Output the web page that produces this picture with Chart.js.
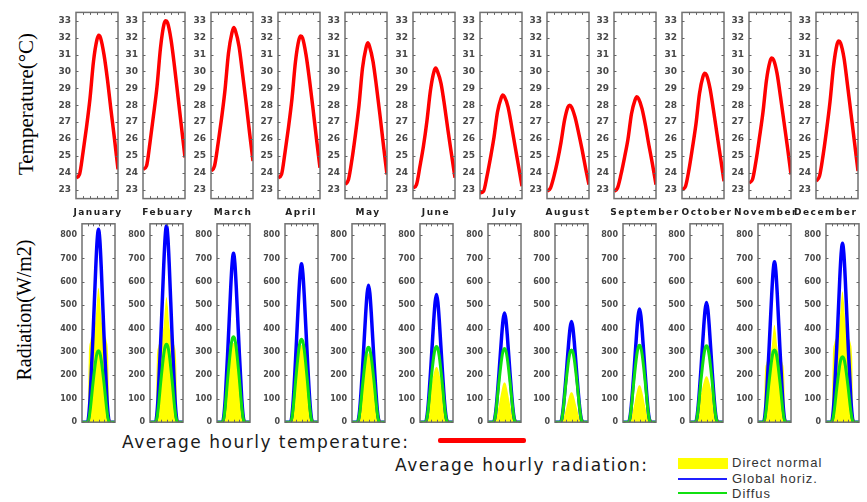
<!DOCTYPE html>
<html>
<head>
<meta charset="utf-8">
<script src="https://cdn.jsdelivr.net/npm/chart.js@4.4.1/dist/chart.umd.min.js"></script>
<style>
  html, body { margin: 0; padding: 0; background: #fff; }
  body { width: 867px; height: 502px; position: relative; overflow: hidden; }
  canvas { position: absolute; }
  .lbl { position: absolute; white-space: nowrap; }
  .month { font: bold 9px "DejaVu Sans"; letter-spacing: 1.5px; color: #222; top: 206px; line-height: 12px; transform: translateX(-50%); }
  .ytitle { font-family: "Liberation Serif"; color: #000; line-height: 24px; transform: translate(-50%, -50%) rotate(-90deg); }
  .legend { font: 17px "DejaVu Sans"; letter-spacing: 1.5px; color: #1a1a1a; line-height: 20px; }
  .key { font: 13px "Liberation Sans"; letter-spacing: 1px; color: #333; line-height: 14px; }
  .swatch { position: absolute; }
</style>
</head>
<body>

<div class="lbl ytitle" style="left:26px; top:104px; font-size:21px;">Temperature(°C)</div>
<div class="lbl ytitle" style="left:24px; top:310px; font-size:20px;">Radiation(W/m2)</div>

<div class="lbl legend" style="left:122px; top:432px;">Average hourly temperature:</div>
<div class="swatch" style="left:438px; top:438px; width:88px; height:5px; background:#ff0000; border-radius:2px;"></div>
<div class="lbl legend" style="left:395px; top:455px;">Average hourly radiation:</div>
<div class="swatch" style="left:678px; top:458px; width:50px; height:11px; background:#ffff00;"></div>
<div class="swatch" style="left:678px; top:478px; width:49px; height:2px; background:#2020ff;"></div>
<div class="swatch" style="left:678px; top:492px; width:49px; height:2px; background:#10e010;"></div>
<div class="lbl key" style="left:732px; top:456px;">Direct normal</div>
<div class="lbl key" style="left:732px; top:472px;">Global horiz.</div>
<div class="lbl key" style="left:732px; top:487px;">Diffus</div>

<script>
const months = ["January", "Febuary", "March", "April", "May", "June",
  "July", "August", "September", "October", "November", "December"];

const tempTicks = [23, 24, 25, 26, 27, 28, 29, 30, 31, 32, 33];
const radTicks = [0, 100, 200, 300, 400, 500, 600, 700, 800];

// hourly temperature (°C)
const tempHours = [0, 2, 4, 6, 8, 10, 12, 13, 14, 16, 18, 20, 22, 24];
const tempJan = [23.7, 23.9, 25.2, 26.7, 28.4, 30.6, 31.9, 32.15, 32.0, 31.0, 29.5, 27.7, 26.0, 24.2];
const tempFeb = [24.2, 24.4, 25.8, 27.4, 29.1, 31.4, 32.8, 33.0, 32.9, 31.9, 30.3, 28.5, 26.7, 24.9];
const tempMar = [24.1, 24.4, 25.7, 27.2, 28.9, 31.1, 32.3, 32.6, 32.4, 31.5, 29.9, 28.2, 26.4, 24.7];
const tempApr = [23.7, 23.9, 25.2, 26.7, 28.4, 30.6, 31.9, 32.1, 32.0, 31.0, 29.5, 27.8, 26.0, 24.3];
const tempMay = [23.3, 23.6, 24.8, 26.3, 28.0, 30.2, 31.4, 31.7, 31.5, 30.6, 29.1, 27.4, 25.6, 23.9];
const tempJun = [23.1, 23.3, 24.4, 25.6, 27.1, 28.9, 30.0, 30.2, 30.0, 29.3, 28.0, 26.5, 25.1, 23.7];
const tempJul = [22.8, 22.9, 23.8, 24.9, 26.1, 27.6, 28.4, 28.6, 28.5, 27.9, 26.8, 25.6, 24.4, 23.2];
const tempAug = [22.9, 23.1, 23.8, 24.7, 25.8, 27.1, 27.9, 28.0, 27.9, 27.3, 26.4, 25.4, 24.3, 23.3];
const tempSep = [22.9, 23.1, 23.9, 24.9, 26.0, 27.5, 28.3, 28.5, 28.4, 27.8, 26.8, 25.6, 24.5, 23.3];
const tempOct = [23.0, 23.2, 24.2, 25.5, 26.9, 28.7, 29.7, 29.9, 29.8, 29.0, 27.7, 26.3, 24.9, 23.5];
const tempNov = [23.4, 23.6, 24.7, 26.1, 27.6, 29.5, 30.6, 30.8, 30.7, 29.9, 28.5, 27.0, 25.5, 23.9];
const tempDec = [23.5, 23.8, 25.0, 26.5, 28.2, 30.3, 31.6, 31.8, 31.7, 30.8, 29.2, 27.5, 25.8, 24.1];

// hourly radiation (W/m2)
const radHours = [0, 4, 5, 6, 8, 10, 11, 12, 13, 14, 16, 18, 19, 20, 24];
const globalJan = [0, 0, 33, 116, 371, 660, 776, 825, 776, 660, 371, 116, 33, 0, 0];
const globalFeb = [0, 0, 34, 118, 378, 672, 790, 840, 790, 672, 378, 118, 34, 0, 0];
const globalMar = [0, 0, 29, 101, 325, 578, 679, 722, 679, 578, 325, 101, 29, 0, 0];
const globalApr = [0, 0, 27, 95, 305, 542, 636, 677, 636, 542, 305, 95, 27, 0, 0];
const globalMay = [0, 0, 23, 82, 263, 468, 550, 585, 550, 468, 263, 82, 23, 0, 0];
const globalJun = [0, 0, 22, 76, 246, 437, 513, 546, 513, 437, 246, 76, 22, 0, 0];
const globalJul = [0, 0, 19, 65, 210, 374, 439, 467, 439, 374, 210, 65, 19, 0, 0];
const globalAug = [0, 0, 17, 60, 194, 344, 404, 430, 404, 344, 194, 60, 17, 0, 0];
const globalSep = [0, 0, 19, 68, 218, 387, 455, 484, 455, 387, 218, 68, 19, 0, 0];
const globalOct = [0, 0, 20, 72, 230, 410, 481, 512, 481, 410, 230, 72, 20, 0, 0];
const globalNov = [0, 0, 27, 96, 309, 549, 645, 686, 645, 549, 309, 96, 27, 0, 0];
const globalDec = [0, 0, 31, 107, 344, 612, 719, 765, 719, 612, 344, 107, 31, 0, 0];

const diffuseJan = [0, 0, 15, 55, 168, 265, 296, 305, 296, 265, 168, 55, 15, 0, 0];
const diffuseFeb = [0, 0, 17, 60, 183, 290, 323, 333, 323, 290, 183, 60, 17, 0, 0];
const diffuseMar = [0, 0, 18, 66, 201, 318, 354, 365, 354, 318, 201, 66, 18, 0, 0];
const diffuseApr = [0, 0, 18, 64, 195, 309, 344, 355, 344, 309, 195, 64, 18, 0, 0];
const diffuseMay = [0, 0, 16, 58, 176, 278, 310, 320, 310, 278, 176, 58, 16, 0, 0];
const diffuseJun = [0, 0, 16, 58, 178, 282, 314, 324, 314, 282, 178, 58, 16, 0, 0];
const diffuseJul = [0, 0, 16, 57, 173, 274, 306, 315, 306, 274, 173, 57, 16, 0, 0];
const diffuseAug = [0, 0, 15, 56, 170, 269, 300, 309, 300, 269, 170, 56, 15, 0, 0];
const diffuseSep = [0, 0, 16, 59, 181, 286, 319, 329, 319, 286, 181, 59, 16, 0, 0];
const diffuseOct = [0, 0, 16, 59, 180, 284, 317, 327, 317, 284, 180, 59, 16, 0, 0];
const diffuseNov = [0, 0, 15, 56, 170, 269, 300, 309, 300, 269, 170, 56, 15, 0, 0];
const diffuseDec = [0, 0, 14, 50, 154, 244, 272, 280, 272, 244, 154, 50, 14, 0, 0];

const directJan = [0, 0, 288, 345, 380, 449, 529, 575, 529, 449, 380, 345, 288, 0, 0];
const directFeb = [0, 0, 268, 321, 353, 417, 492, 535, 492, 417, 353, 321, 268, 0, 0];
const directMar = [0, 0, 34, 102, 211, 299, 330, 340, 330, 299, 211, 102, 34, 0, 0];
const directApr = [0, 0, 33, 99, 205, 290, 320, 330, 320, 290, 205, 99, 33, 0, 0];
const directMay = [0, 0, 30, 89, 183, 260, 286, 295, 286, 260, 183, 89, 30, 0, 0];
const directJun = [0, 0, 24, 71, 147, 209, 230, 237, 230, 209, 147, 71, 24, 0, 0];
const directJul = [0, 0, 5, 20, 77, 139, 163, 170, 163, 139, 77, 20, 5, 0, 0];
const directAug = [0, 0, 4, 15, 58, 105, 123, 128, 123, 105, 58, 15, 4, 0, 0];
const directSep = [0, 0, 5, 19, 71, 130, 152, 158, 152, 130, 71, 19, 5, 0, 0];
const directOct = [0, 0, 20, 59, 122, 172, 190, 196, 190, 172, 122, 59, 20, 0, 0];
const directNov = [0, 0, 208, 250, 275, 324, 383, 416, 383, 324, 275, 250, 208, 0, 0];
const directDec = [0, 0, 280, 336, 370, 437, 515, 560, 515, 437, 370, 336, 280, 0, 0];

const temperature = [tempJan, tempFeb, tempMar, tempApr, tempMay, tempJun,
  tempJul, tempAug, tempSep, tempOct, tempNov, tempDec];
const globalHoriz = [globalJan, globalFeb, globalMar, globalApr, globalMay, globalJun,
  globalJul, globalAug, globalSep, globalOct, globalNov, globalDec];
const diffuse = [diffuseJan, diffuseFeb, diffuseMar, diffuseApr, diffuseMay, diffuseJun,
  diffuseJul, diffuseAug, diffuseSep, diffuseOct, diffuseNov, diffuseDec];
const directNormal = [directJan, directFeb, directMar, directApr, directMay, directJun,
  directJul, directAug, directSep, directOct, directNov, directDec];

const boxTicksX = [4, 8, 12, 16, 20];

// label centres under the temperature panels (the last one is left-aligned)
const monthLabelX = [98, 168, 233, 301, 368, 436, 505, 568, 645, 707, 766, 0];

// draws the frame round each panel with small inward ticks, matlab style
const panelBox = {
  id: "panelBox",
  afterDraw(chart, _args, opts) {
    const { ctx, chartArea: a, scales } = chart;
    ctx.save();
    ctx.strokeStyle = "#707070";
    ctx.lineWidth = 1.5;
    ctx.strokeRect(a.left, a.top, a.right - a.left, a.bottom - a.top);
    ctx.lineWidth = 1;
    ctx.strokeStyle = "#666";
    ctx.beginPath();
    opts.yTicks.forEach((v) => {
      const y = Math.round(scales.y.getPixelForValue(v)) + 0.5;
      ctx.moveTo(a.left, y); ctx.lineTo(a.left + 2.5, y);
      ctx.moveTo(a.right, y); ctx.lineTo(a.right - 2.5, y);
    });
    boxTicksX.forEach((h) => {
      const x = Math.round(scales.x.getPixelForValue(h)) + 0.5;
      ctx.moveTo(x, a.top); ctx.lineTo(x, a.top + 2.5);
      ctx.moveTo(x, a.bottom); ctx.lineTo(x, a.bottom - 2.5);
    });
    ctx.stroke();
    ctx.restore();
  }
};

function points(hours, values) {
  return hours.map((h, i) => ({ x: h, y: values[i] }));
}

function panel(box, axisW, yMin, yMax, ticks, fontSize, datasets) {
  const canvas = document.createElement("canvas");
  canvas.width = axisW + box.w + 2;
  canvas.height = box.h + 12;
  canvas.style.left = (box.x - axisW) + "px";
  canvas.style.top = (box.y - 6) + "px";
  document.body.appendChild(canvas);

  new Chart(canvas, {
    type: "line",
    data: { datasets },
    plugins: [panelBox],
    options: {
      responsive: false,
      animation: false,
      layout: { padding: { left: 0, right: 2, top: 6, bottom: 6 } },
      elements: { point: { radius: 0 }, line: { cubicInterpolationMode: "monotone" } },
      plugins: {
        legend: { display: false },
        tooltip: { enabled: false },
        panelBox: { yTicks: ticks }
      },
      scales: {
        x: { type: "linear", min: 0, max: 24, display: false },
        y: {
          min: yMin,
          max: yMax,
          afterFit: (s) => { s.width = axisW; },
          afterBuildTicks: (s) => { s.ticks = ticks.map((v) => ({ value: v })); },
          grid: { display: false, drawTicks: false },
          border: { display: false },
          ticks: {
            autoSkip: false,
            padding: 5,
            color: "#484848",
            font: { family: "DejaVu Sans", size: fontSize, weight: "bold" }
          }
        }
      }
    }
  });
}

months.forEach((name, i) => {
  // temperature row
  panel({ x: 76 + i * 67.3, y: 8, w: 42, h: 195 }, 30, 22.47, 33.5, tempTicks, 9, [{
    data: points(tempHours, temperature[i]),
    borderColor: "#ff0000",
    borderWidth: 3.5,
    fill: false
  }]);

  // radiation row: first dataset ends up on top
  panel({ x: 82 + i * 67.6, y: 220, w: 33, h: 206 }, 32, 0, 848, radTicks, 8, [
    {
      data: points(radHours, diffuse[i]),
      borderColor: "#10e010",
      borderWidth: 3,
      fill: false
    },
    {
      data: points(radHours, globalHoriz[i]),
      borderColor: "#0000ff",
      borderWidth: 3.5,
      fill: false
    },
    {
      data: points(radHours, directNormal[i]),
      borderColor: "rgba(0,0,0,0)",
      borderWidth: 0,
      backgroundColor: "#ffff00",
      fill: "origin"
    }
  ]);

  const label = document.createElement("div");
  label.className = "lbl month";
  label.textContent = name;
  if (monthLabelX[i]) {
    label.style.left = monthLabelX[i] + "px";
  } else {
    label.style.left = "794px";
    label.style.transform = "none";
  }
  document.body.appendChild(label);
});
</script>
</body>
</html>
